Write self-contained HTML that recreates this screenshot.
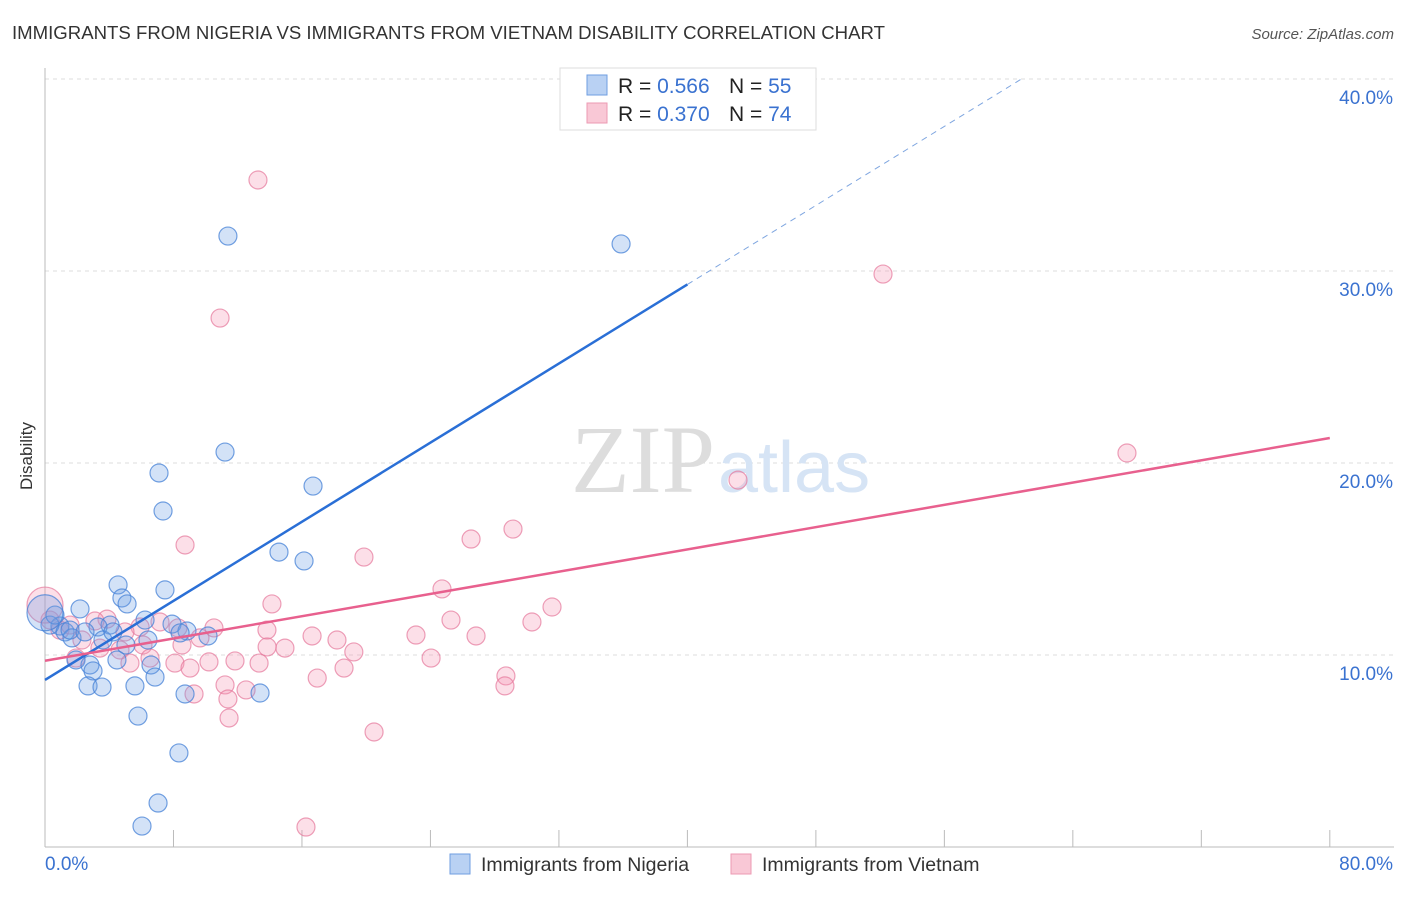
<!DOCTYPE html>
<html><head><meta charset="utf-8"><style>
body{margin:0;background:#fff;font-family:"Liberation Sans",sans-serif;}
</style></head><body>
<svg id="chart" width="1406" height="892" xmlns="http://www.w3.org/2000/svg">
<text x="12" y="39" font-size="18.6" fill="#333">IMMIGRANTS FROM NIGERIA VS IMMIGRANTS FROM VIETNAM DISABILITY CORRELATION CHART</text>
<text x="1394" y="39" font-size="15" fill="#555" font-style="italic" text-anchor="end">Source: ZipAtlas.com</text>
<text x="32" y="456" font-size="17" fill="#333" text-anchor="middle" transform="rotate(-90 32 456)">Disability</text>
<g id="grid"></g>
<g id="ticks"></g>
<text x="715" y="492" font-size="96" fill="#ddd" text-anchor="end" font-family="Liberation Serif,serif">ZIP</text>
<text x="718" y="492" font-size="72" fill="#d6e4f5">atlas</text>
<g id="points"></g>
<g id="lines"></g>
<g>
<rect x="560" y="68" width="256" height="62" fill="#fff" stroke="#ddd"/>
<rect x="587" y="75" width="20" height="20" fill="#b9d1f3" stroke="#6f9ee0"/>
<rect x="587" y="103" width="20" height="20" fill="#f9c8d6" stroke="#ec9ab3"/>
<text x="618" y="93" font-size="21" fill="#222">R = <tspan fill="#3a72d0">0.566</tspan><tspan x="729">N = </tspan><tspan fill="#3a72d0">55</tspan></text>
<text x="618" y="121" font-size="21" fill="#222">R = <tspan fill="#3a72d0">0.370</tspan><tspan x="729">N = </tspan><tspan fill="#3a72d0">74</tspan></text>
</g>
<g>
<rect x="450" y="854" width="20" height="20" fill="#b9d1f3" stroke="#6f9ee0"/>
<text x="481" y="871" font-size="19.5" fill="#333">Immigrants from Nigeria</text>
<rect x="731" y="854" width="20" height="20" fill="#f9c8d6" stroke="#ec9ab3"/>
<text x="762" y="871" font-size="19.5" fill="#333">Immigrants from Vietnam</text>
</g>
</svg>
<script>
const xTicks=[0,8,16,24,32,40,48,56,64,72,80];
const yTicks=[10,20,30,40];
const yTickLabels=["10.0%","20.0%","30.0%","40.0%"];
const xEndLabels=["0.0%","80.0%"];
const nigeriaX=[11.39,35.87,11.21,7.10,16.69,7.35,14.57,16.13,4.55,7.47,4.79,5.11,2.18,6.23,7.91,4.05,0.93,3.30,8.84,8.41,10.15,0.31,1.25,1.68,6.41,3.61,5.04,1.93,4.48,2.80,6.60,2.99,6.85,2.68,3.55,5.60,8.72,13.39,5.79,8.34,7.04,6.04,0.62,1.56,2.49,4.23,0];
const nigeriaY=[31.82,31.41,20.57,19.48,18.80,17.50,15.36,14.90,13.65,13.39,12.97,12.66,12.40,11.82,11.61,11.56,11.51,11.46,11.25,11.15,10.99,11.56,11.20,10.89,10.78,10.78,10.52,9.74,9.74,9.48,9.48,9.17,8.85,8.39,8.33,8.39,7.97,8.02,6.82,4.90,2.29,1.09,12.08,11.30,11.20,11.20,12.2];
const vietnamX=[13.26,52.18,10.90,67.37,43.15,29.14,26.53,8.72,19.86,24.72,31.57,14.13,25.28,30.32,13.82,10.52,23.10,16.63,26.84,18.18,9.65,14.94,13.83,19.23,24.04,8.28,7.16,5.92,4.98,3.86,3.11,2.30,3.42,4.67,6.10,8.53,11.83,13.33,10.21,8.09,9.03,5.29,6.54,18.62,16.95,28.70,28.64,11.21,12.52,9.28,11.39,11.46,20.49,16.25,1.93,0.93,0.31,1.56,0];
const vietnamY=[34.74,29.84,27.55,20.52,19.11,16.56,16.04,15.73,15.10,13.44,12.50,12.66,11.82,11.72,11.30,11.41,11.04,10.99,10.99,10.78,10.89,10.36,10.42,10.16,9.84,11.41,11.72,11.46,11.20,11.87,11.77,10.78,10.36,10.26,10.52,10.52,9.69,9.58,9.64,9.58,9.32,9.58,9.84,9.32,8.80,8.91,8.39,8.44,8.18,7.97,7.71,6.72,5.99,1.04,9.84,11.30,11.82,11.56,12.6];
const nigeriaTrend=[[0,8.7],[40,29.3]];
const nigeriaTrendExt=[[40,29.3],[60.8,40]];
const vietnamTrend=[[0,9.7],[80,21.3]];
const X=v=>45+v*16.06, Y=v=>847-v*19.2;
const NS="http://www.w3.org/2000/svg";
function mk(t,a,p){const e=document.createElementNS(NS,t);for(const k in a)e.setAttribute(k,a[k]);p.appendChild(e);return e;}
const grid=document.getElementById('grid'),ticks=document.getElementById('ticks'),svg=document.getElementById('chart');
yTicks.forEach((v,i)=>{
 const l=mk('line',{x1:45,x2:1394,y1:Y(v),y2:Y(v),stroke:'#ddd','stroke-dasharray':'4,4'},grid);
 
 
 const t=mk('text',{x:1393,y:Y(v)+25,'font-size':19,fill:'#3a72d0','text-anchor':'end'},ticks);t.textContent=yTickLabels[i];
 
 
});
mk('line',{x1:45,x2:45,y1:68,y2:847,stroke:'#bbb'},ticks);
mk('line',{x1:45,x2:1394,y1:847,y2:847,stroke:'#bbb'},ticks);
xTicks.forEach(v=>{const l=mk('line',{x1:X(v),x2:X(v),y1:830,y2:847,stroke:'#bbb'},ticks);
 
 });
const xl0=mk('text',{x:45,y:870,'font-size':19,fill:'#3a72d0'},ticks);xl0.textContent=xEndLabels[0];


const xl1=mk('text',{x:1393,y:870,'font-size':19,fill:'#3a72d0','text-anchor':'end'},ticks);xl1.textContent=xEndLabels[1];


const pts=document.getElementById('points');
function dots(xs,ys,fill,stroke,name){xs.forEach((x,i)=>{const r=(x===0)?18:9;
 const c=mk('circle',{cx:X(x),cy:Y(ys[i]),r:r,fill:fill,stroke:stroke,'stroke-width':1.2},pts);
 
 });}
dots(vietnamX,vietnamY,'rgba(244,150,178,0.3)','rgba(230,120,155,0.7)','point-vietnam');
dots(nigeriaX,nigeriaY,'rgba(110,160,230,0.3)','rgba(70,130,215,0.75)','point-nigeria');
const lines=document.getElementById('lines');
function ln(p,stroke,w,dash,name){const l=mk('line',{x1:X(p[0][0]),y1:Y(p[0][1]),x2:X(p[1][0]),y2:Y(p[1][1]),stroke:stroke,'stroke-width':w},lines);if(dash)l.setAttribute('stroke-dasharray',dash);
 
 }
ln(nigeriaTrend,'#2a6fd6',2.5,null,'trend-nigeria');
ln(nigeriaTrendExt,'#7fa6e0',1,'6,5','trend-nigeria-extension');
ln(vietnamTrend,'#e8608e',2.5,null,'trend-vietnam');
</script>
</body></html>
